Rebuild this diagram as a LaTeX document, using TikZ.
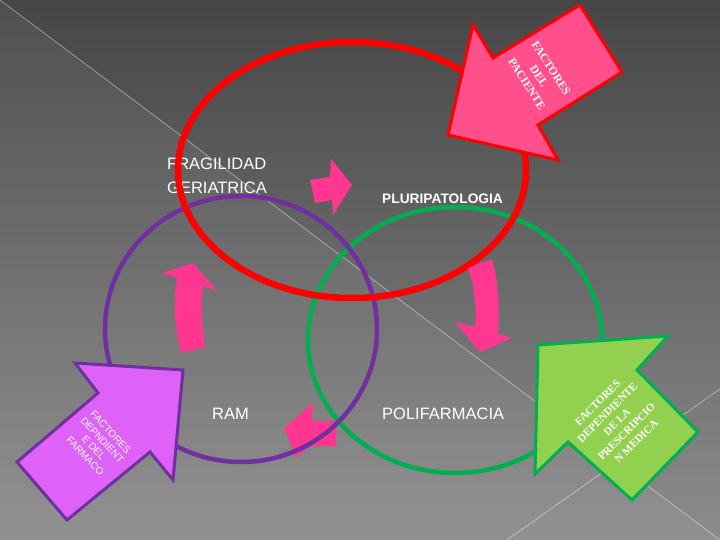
\documentclass[tikz,border=0pt]{standalone}
\usepackage{fontspec}
\setmainfont{Liberation Sans}
\newfontfamily\timesfont{Liberation Serif}
\definecolor{bgtop}{RGB}{70,70,70}
\definecolor{bgbot}{RGB}{140,140,140}
\definecolor{ringred}{RGB}{255,0,0}
\definecolor{ringpurple}{RGB}{112,48,160}
\definecolor{ringgreen}{RGB}{0,176,80}
\definecolor{hotpink}{RGB}{255,55,145}
\definecolor{pinkfill}{RGB}{255,80,140}
\definecolor{violetfill}{RGB}{222,98,247}
\definecolor{limefill}{RGB}{146,208,80}
\begin{document}
\begin{tikzpicture}[x=1bp, y=-1bp,
  ring/.style = {line width=#1},
  tag/.style = {text=white, inner sep=0pt, anchor=base west, font=\fontsize{16.5bp}{20bp}\selectfont},
  bigarrow/.style = {line width=3bp, line join=miter},
  smallarrow/.style = {fill=hotpink},
  arrowtext/.style = {text=white, align=center, inner sep=0pt}]
  \shade[top color=bgtop, bottom color=bgbot] (0,0) rectangle (720,540);
  \useasboundingbox (0,0) rectangle (720,540);
  \fill[white, opacity=0.05] (0,0) -- (720,540) -- (0,540) -- cycle;
  \draw[white, opacity=0.45, line width=0.7bp] (0,0) -- (720,540);
  \draw[white, opacity=0.45, line width=0.7bp] (507,540) -- (720,389);

  \draw[ring=4.5bp, ringgreen] (455,340) ellipse [x radius=147bp, y radius=133bp];
  \fill[smallarrow] (284,428) -- (313,403) -- (312,421) -- (336,421) -- (336,446) -- (310,446) -- (296,458) -- cycle;
  \draw[ring=4.5bp, ringpurple] (241,329) ellipse [x radius=136bp, y radius=133bp];

  \node[tag] (frag) at (167,170) {FRAGILIDAD};
  \node[tag] (geri) at (167,194) {GERIATRICA};
  \node[tag, font=\fontsize{13.75bp}{16bp}\selectfont\bfseries] (pluri) at (382,204) {PLURIPATOLOGIA};
  \node[tag] (ram) at (212,419) {RAM};
  \node[tag] (poli) at (382,419) {POLIFARMACIA};

  \draw[ring=6.5bp, ringred] (352,170) ellipse [x radius=174bp, y radius=128bp];

  \fill[smallarrow] (310,180) -- (330,177) -- (331,159) -- (352,185) -- (333,215) -- (332,200) -- (315,203) -- cycle;
  \fill[smallarrow] (468,268) .. controls (474,285) and (477,305) .. (475,327) -- (455,322) -- (480,352) -- (512,338) -- (498,334) .. controls (500,305) and (498,280) .. (492,259) -- cycle;
  \fill[smallarrow] (182,353) .. controls (174,330) and (173,300) .. (177,278) -- (162,273) -- (193,263) -- (217,291) -- (203,286) .. controls (201,305) and (202,325) .. (205,347) -- cycle;

  \draw[bigarrow, draw=ringred, fill=pinkfill] (580,5) -- (622,72) -- (538,125) -- (558,160) -- (448,135) -- (473,25) -- (493,58) -- cycle;
  \node[arrowtext, rotate=-57, font=\timesfont\bfseries\fontsize{11.5bp}{14.5bp}\selectfont] (paciente) at (539,76) {FACTORES\\DEL\\PACIENTE};

  \draw[bigarrow, draw=ringpurple, fill=violetfill] (75,363) -- (183,370) -- (173,480) -- (150,452) -- (67,520) -- (17,462) -- (98,393) -- cycle;
  \node[arrowtext, rotate=-47, font=\fontsize{10bp}{11.6bp}\selectfont] (farmaco) at (98,444) {FACTORES\\DEPNDIENT\\E DEL\\FARMACO};

  \draw[bigarrow, draw=ringgreen, fill=limefill] (538,345) -- (668,336) -- (637,370) -- (698,432) -- (632,500) -- (568,442) -- (535,474) -- cycle;
  \node[arrowtext, rotate=45, font=\timesfont\bfseries\fontsize{11bp}{13.6bp}\selectfont] (receta) at (617,422) {FACTORES\\DEPENDIENTE\\DE LA\\PRESCRIPCIO\\N MEDICA};
\end{tikzpicture}
\end{document}
